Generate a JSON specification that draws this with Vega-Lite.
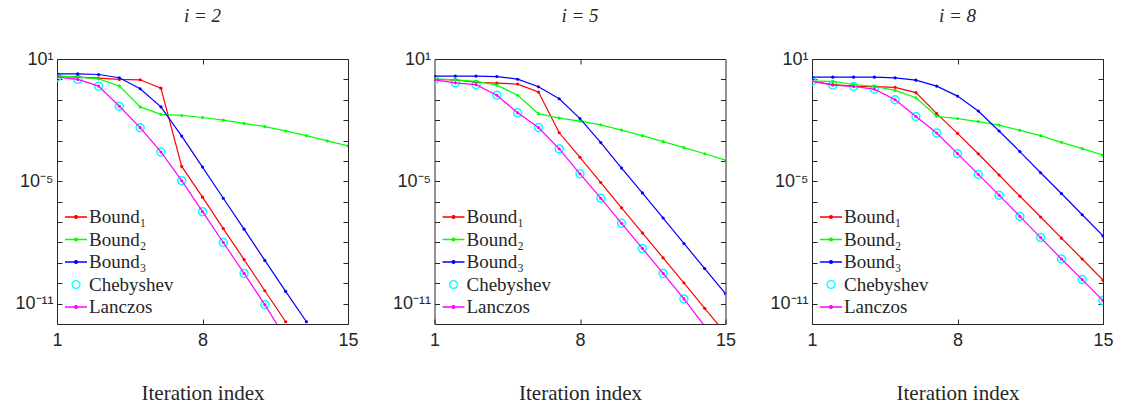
{
"$schema": "https://vega.github.io/schema/vega-lite/v6.json",
"background": "white",
"padding": {"left": 14, "top": 6, "right": 5, "bottom": 5},
"spacing": 32.5,
"datasets": {
"p2": [
{"k":1,"s":"Bound₁","v":1.45},{"k":2,"s":"Bound₁","v":1.29},{"k":3,"s":"Bound₁","v":1.15},{"k":4,"s":"Bound₁","v":1.0},{"k":5,"s":"Bound₁","v":0.955},{"k":6,"s":"Bound₁","v":0.372},{"k":7,"s":"Bound₁","v":5.37e-5},{"k":8,"s":"Bound₁","v":1.66e-6},{"k":9,"s":"Bound₁","v":4.79e-8},{"k":10,"s":"Bound₁","v":1.45e-9},{"k":11,"s":"Bound₁","v":4.27e-11},{"k":12,"s":"Bound₁","v":1.29e-12},
{"k":1,"s":"Bound₂","v":1.45},{"k":2,"s":"Bound₂","v":1.29},{"k":3,"s":"Bound₂","v":1.07},{"k":4,"s":"Bound₂","v":0.468},{"k":5,"s":"Bound₂","v":0.0447},{"k":6,"s":"Bound₂","v":0.0191},{"k":7,"s":"Bound₂","v":0.017},{"k":8,"s":"Bound₂","v":0.0135},{"k":9,"s":"Bound₂","v":0.01},{"k":10,"s":"Bound₂","v":0.00692},{"k":11,"s":"Bound₂","v":0.00479},{"k":12,"s":"Bound₂","v":0.00295},{"k":13,"s":"Bound₂","v":0.00174},{"k":14,"s":"Bound₂","v":0.000955},{"k":15,"s":"Bound₂","v":0.00055},
{"k":1,"s":"Bound₃","v":1.86},{"k":2,"s":"Bound₃","v":1.86},{"k":3,"s":"Bound₃","v":1.74},{"k":4,"s":"Bound₃","v":1.2},{"k":5,"s":"Bound₃","v":0.347},{"k":6,"s":"Bound₃","v":0.0447},{"k":7,"s":"Bound₃","v":0.00166},{"k":8,"s":"Bound₃","v":5.01e-5},{"k":9,"s":"Bound₃","v":1.48e-6},{"k":10,"s":"Bound₃","v":4.47e-8},{"k":11,"s":"Bound₃","v":1.32e-9},{"k":12,"s":"Bound₃","v":3.98e-11},{"k":13,"s":"Bound₃","v":1.29e-12},
{"k":1,"s":"Chebyshev","v":1.29},{"k":2,"s":"Chebyshev","v":1.0},{"k":3,"s":"Chebyshev","v":0.468},{"k":4,"s":"Chebyshev","v":0.0479},{"k":5,"s":"Chebyshev","v":0.00427},{"k":6,"s":"Chebyshev","v":0.000275},{"k":7,"s":"Chebyshev","v":1.07e-5},{"k":8,"s":"Chebyshev","v":3.24e-7},{"k":9,"s":"Chebyshev","v":1.0e-8},{"k":10,"s":"Chebyshev","v":3.02e-10},{"k":11,"s":"Chebyshev","v":8.91e-12},
{"k":1,"s":"Lanczos","v":1.29},{"k":2,"s":"Lanczos","v":1.0},{"k":3,"s":"Lanczos","v":0.468},{"k":4,"s":"Lanczos","v":0.0479},{"k":5,"s":"Lanczos","v":0.00427},{"k":6,"s":"Lanczos","v":0.000275},{"k":7,"s":"Lanczos","v":1.07e-5},{"k":8,"s":"Lanczos","v":3.24e-7},{"k":9,"s":"Lanczos","v":1.0e-8},{"k":10,"s":"Lanczos","v":3.02e-10},{"k":11,"s":"Lanczos","v":8.91e-12},{"k":12,"s":"Lanczos","v":1.95e-13}
],
"p5": [
{"k":1,"s":"Bound₁","v":1.0},{"k":2,"s":"Bound₁","v":0.955},{"k":3,"s":"Bound₁","v":0.724},{"k":4,"s":"Bound₁","v":0.661},{"k":5,"s":"Bound₁","v":0.589},{"k":6,"s":"Bound₁","v":0.24},{"k":7,"s":"Bound₁","v":0.0024},{"k":8,"s":"Bound₁","v":0.000151},{"k":9,"s":"Bound₁","v":8.71e-6},{"k":10,"s":"Bound₁","v":5.01e-7},{"k":11,"s":"Bound₁","v":2.95e-8},{"k":12,"s":"Bound₁","v":1.74e-9},{"k":13,"s":"Bound₁","v":1.05e-10},{"k":14,"s":"Bound₁","v":5.89e-12},{"k":15,"s":"Bound₁","v":3.47e-13},
{"k":1,"s":"Bound₂","v":1.07},{"k":2,"s":"Bound₂","v":0.955},{"k":3,"s":"Bound₂","v":0.794},{"k":4,"s":"Bound₂","v":0.525},{"k":5,"s":"Bound₂","v":0.166},{"k":6,"s":"Bound₂","v":0.0209},{"k":7,"s":"Bound₂","v":0.0126},{"k":8,"s":"Bound₂","v":0.00891},{"k":9,"s":"Bound₂","v":0.00589},{"k":10,"s":"Bound₂","v":0.00324},{"k":11,"s":"Bound₂","v":0.00174},{"k":12,"s":"Bound₂","v":0.000891},{"k":13,"s":"Bound₂","v":0.000447},{"k":14,"s":"Bound₂","v":0.000224},{"k":15,"s":"Bound₂","v":0.00011},
{"k":1,"s":"Bound₃","v":1.45},{"k":2,"s":"Bound₃","v":1.45},{"k":3,"s":"Bound₃","v":1.45},{"k":4,"s":"Bound₃","v":1.38},{"k":5,"s":"Bound₃","v":1.02},{"k":6,"s":"Bound₃","v":0.437},{"k":7,"s":"Bound₃","v":0.112},{"k":8,"s":"Bound₃","v":0.012},{"k":9,"s":"Bound₃","v":0.000794},{"k":10,"s":"Bound₃","v":4.47e-5},{"k":11,"s":"Bound₃","v":2.69e-6},{"k":12,"s":"Bound₃","v":1.58e-7},{"k":13,"s":"Bound₃","v":8.91e-9},{"k":14,"s":"Bound₃","v":5.25e-10},{"k":15,"s":"Bound₃","v":3.09e-11},
{"k":1,"s":"Chebyshev","v":0.955},{"k":2,"s":"Chebyshev","v":0.676},{"k":3,"s":"Chebyshev","v":0.55},{"k":4,"s":"Chebyshev","v":0.166},{"k":5,"s":"Chebyshev","v":0.0229},{"k":6,"s":"Chebyshev","v":0.00437},{"k":7,"s":"Chebyshev","v":0.000389},{"k":8,"s":"Chebyshev","v":2.34e-5},{"k":9,"s":"Chebyshev","v":1.48e-6},{"k":10,"s":"Chebyshev","v":8.71e-8},{"k":11,"s":"Chebyshev","v":5.13e-9},{"k":12,"s":"Chebyshev","v":3.02e-10},{"k":13,"s":"Chebyshev","v":1.7e-11},
{"k":1,"s":"Lanczos","v":0.955},{"k":2,"s":"Lanczos","v":0.676},{"k":3,"s":"Lanczos","v":0.55},{"k":4,"s":"Lanczos","v":0.166},{"k":5,"s":"Lanczos","v":0.0229},{"k":6,"s":"Lanczos","v":0.00437},{"k":7,"s":"Lanczos","v":0.000389},{"k":8,"s":"Lanczos","v":2.34e-5},{"k":9,"s":"Lanczos","v":1.48e-6},{"k":10,"s":"Lanczos","v":8.71e-8},{"k":11,"s":"Lanczos","v":5.13e-9},{"k":12,"s":"Lanczos","v":3.02e-10},{"k":13,"s":"Lanczos","v":1.7e-11},{"k":14,"s":"Lanczos","v":7.8e-13}
],
"p8": [
{"k":1,"s":"Bound₁","v":0.813},{"k":2,"s":"Bound₁","v":0.55},{"k":3,"s":"Bound₁","v":0.468},{"k":4,"s":"Bound₁","v":0.437},{"k":5,"s":"Bound₁","v":0.407},{"k":6,"s":"Bound₁","v":0.224},{"k":7,"s":"Bound₁","v":0.0209},{"k":8,"s":"Bound₁","v":0.00224},{"k":9,"s":"Bound₁","v":0.000224},{"k":10,"s":"Bound₁","v":2.04e-5},{"k":11,"s":"Bound₁","v":1.86e-6},{"k":12,"s":"Bound₁","v":1.78e-7},{"k":13,"s":"Bound₁","v":1.62e-8},{"k":14,"s":"Bound₁","v":1.55e-9},{"k":15,"s":"Bound₁","v":1.41e-10},
{"k":1,"s":"Bound₂","v":0.813},{"k":2,"s":"Bound₂","v":0.794},{"k":3,"s":"Bound₂","v":0.562},{"k":4,"s":"Bound₂","v":0.447},{"k":5,"s":"Bound₂","v":0.288},{"k":6,"s":"Bound₂","v":0.126},{"k":7,"s":"Bound₂","v":0.0155},{"k":8,"s":"Bound₂","v":0.012},{"k":9,"s":"Bound₂","v":0.00851},{"k":10,"s":"Bound₂","v":0.00575},{"k":11,"s":"Bound₂","v":0.00316},{"k":12,"s":"Bound₂","v":0.00174},{"k":13,"s":"Bound₂","v":0.000813},{"k":14,"s":"Bound₂","v":0.000398},{"k":15,"s":"Bound₂","v":0.000191},
{"k":1,"s":"Bound₃","v":1.29},{"k":2,"s":"Bound₃","v":1.29},{"k":3,"s":"Bound₃","v":1.29},{"k":4,"s":"Bound₃","v":1.29},{"k":5,"s":"Bound₃","v":1.19},{"k":6,"s":"Bound₃","v":0.912},{"k":7,"s":"Bound₃","v":0.468},{"k":8,"s":"Bound₃","v":0.151},{"k":9,"s":"Bound₃","v":0.0282},{"k":10,"s":"Bound₃","v":0.00295},{"k":11,"s":"Bound₃","v":0.000288},{"k":12,"s":"Bound₃","v":2.63e-5},{"k":13,"s":"Bound₃","v":2.51e-6},{"k":14,"s":"Bound₃","v":2.29e-7},{"k":15,"s":"Bound₃","v":2.09e-8},
{"k":1,"s":"Chebyshev","v":0.813},{"k":2,"s":"Chebyshev","v":0.525},{"k":3,"s":"Chebyshev","v":0.447},{"k":4,"s":"Chebyshev","v":0.331},{"k":5,"s":"Chebyshev","v":0.1},{"k":6,"s":"Chebyshev","v":0.0151},{"k":7,"s":"Chebyshev","v":0.00234},{"k":8,"s":"Chebyshev","v":0.000229},{"k":9,"s":"Chebyshev","v":2.19e-5},{"k":10,"s":"Chebyshev","v":2.09e-6},{"k":11,"s":"Chebyshev","v":1.91e-7},{"k":12,"s":"Chebyshev","v":1.74e-8},{"k":13,"s":"Chebyshev","v":1.55e-9},{"k":14,"s":"Chebyshev","v":1.51e-10},{"k":15,"s":"Chebyshev","v":1.41e-11},
{"k":1,"s":"Lanczos","v":0.813},{"k":2,"s":"Lanczos","v":0.525},{"k":3,"s":"Lanczos","v":0.447},{"k":4,"s":"Lanczos","v":0.331},{"k":5,"s":"Lanczos","v":0.1},{"k":6,"s":"Lanczos","v":0.0151},{"k":7,"s":"Lanczos","v":0.00234},{"k":8,"s":"Lanczos","v":0.000229},{"k":9,"s":"Lanczos","v":2.19e-5},{"k":10,"s":"Lanczos","v":2.09e-6},{"k":11,"s":"Lanczos","v":1.91e-7},{"k":12,"s":"Lanczos","v":1.74e-8},{"k":13,"s":"Lanczos","v":1.55e-9},{"k":14,"s":"Lanczos","v":1.51e-10},{"k":15,"s":"Lanczos","v":1.41e-11}
]
},
"hconcat": [
{"width": 291, "height": 265, "title": {"text": "i = 2"}, "data": {"name": "p2"},
 "layer": [
  {"transform": [{"filter": "datum.s === 'Chebyshev'"}],
   "mark": {"type": "point", "filled": false, "size": 484, "strokeWidth": 1.5, "opacity": 1, "clip": true},
   "encoding": {
    "x": {"field": "k", "type": "quantitative", "scale": {"domain": [1, 15], "nice": false, "zero": false}, "axis": {"orient": "top", "values": [8], "labels": false, "tickSize": -5, "title": null}},
    "y": {"field": "v", "type": "quantitative", "scale": {"type": "log", "domain": [1e-12, 10], "nice": false}, "axis": {"orient": "right", "values": [10,1,0.1,0.01,0.001,0.0001,1e-5,1e-6,1e-7,1e-8,1e-9,1e-10,1e-11,1e-12], "labels": false, "tickSize": -5, "title": null}},
    "stroke": {"field": "s", "type": "nominal", "scale": {"domain": ["Bound₁","Bound₂","Bound₃","Chebyshev","Lanczos"], "range": ["#ff0000","#00ff00","#0000ff","#00ffff","#ff00ff"]},
      "legend": {"orient": "none", "legendX": 7, "legendY": 146, "title": null}},
    "fill": {"field": "s", "type": "nominal", "scale": {"domain": ["Bound₁","Bound₂","Bound₃","Chebyshev","Lanczos"], "range": ["#ff0000","#00ff00","#0000ff","transparent","#ff00ff"]},
      "legend": {"orient": "none", "legendX": 7, "legendY": 146, "title": null}},
    "shape": {"field": "s", "type": "nominal", "scale": {"domain": ["Bound₁","Bound₂","Bound₃","Chebyshev","Lanczos"], "range": ["M-1,0L1,0M-0.13,0A0.13,0.13,0,1,0,0.13,0A0.13,0.13,0,1,0,-0.13,0Z","M-1,0L1,0M-0.13,0A0.13,0.13,0,1,0,0.13,0A0.13,0.13,0,1,0,-0.13,0Z","M-1,0L1,0M-0.13,0A0.13,0.13,0,1,0,0.13,0A0.13,0.13,0,1,0,-0.13,0Z","M-0.36,0A0.36,0.36,0,1,0,0.36,0A0.36,0.36,0,1,0,-0.36,0Z","M-1,0L1,0M-0.13,0A0.13,0.13,0,1,0,0.13,0A0.13,0.13,0,1,0,-0.13,0Z"]},
      "legend": {"orient": "none", "legendX": 7, "legendY": 146, "title": null}}
   }},
  {"transform": [{"filter": "datum.s !== 'Chebyshev'"}],
   "mark": {"type": "line", "strokeWidth": 1.2, "clip": true},
   "encoding": {
    "x": {"field": "k", "type": "quantitative", "scale": {"domain": [1, 15], "nice": false, "zero": false}, "axis": {"orient": "bottom", "values": [1, 8, 15], "tickSize": -5, "labelPadding": 12, "title": "Iteration index", "titlePadding": 33}},
    "y": {"field": "v", "type": "quantitative", "scale": {"type": "log", "domain": [1e-12, 10], "nice": false}, "axis": {"orient": "left", "values": [10,1,0.1,0.01,0.001,0.0001,1e-5,1e-6,1e-7,1e-8,1e-9,1e-10,1e-11,1e-12], "tickSize": -5, "labelPadding": 9, "title": null, "labelBaseline": "middle",
      "labelExpr": "round(log(datum.value)/LN10) == 1 ? '10¹' : round(log(datum.value)/LN10) == -5 ? '10⁻⁵' : round(log(datum.value)/LN10) == -11 ? '10⁻¹¹' : ''"}},
    "color": {"field": "s", "type": "nominal", "scale": {"domain": ["Bound₁","Bound₂","Bound₃","Chebyshev","Lanczos"], "range": ["#ff0000","#00ff00","#0000ff","#00ffff","#ff00ff"]}, "legend": null}
   }},
  {"transform": [{"filter": "datum.s !== 'Chebyshev'"}],
   "mark": {"type": "point", "filled": true, "size": 10, "opacity": 1, "clip": true},
   "encoding": {
    "x": {"field": "k", "type": "quantitative", "scale": {"domain": [1, 15], "nice": false, "zero": false}, "axis": null},
    "y": {"field": "v", "type": "quantitative", "scale": {"type": "log", "domain": [1e-12, 10], "nice": false}, "axis": null},
    "color": {"field": "s", "type": "nominal", "scale": {"domain": ["Bound₁","Bound₂","Bound₃","Chebyshev","Lanczos"], "range": ["#ff0000","#00ff00","#0000ff","#00ffff","#ff00ff"]}, "legend": null}
   }}
 ],
 "resolve": {"axis": {"x": "independent", "y": "independent"}}
},
{"width": 291, "height": 265, "title": {"text": "i = 5"}, "data": {"name": "p5"},
 "layer": [
  {"transform": [{"filter": "datum.s === 'Chebyshev'"}],
   "mark": {"type": "point", "filled": false, "size": 484, "strokeWidth": 1.5, "opacity": 1, "clip": true},
   "encoding": {
    "x": {"field": "k", "type": "quantitative", "scale": {"domain": [1, 15], "nice": false, "zero": false}, "axis": {"orient": "top", "values": [8], "labels": false, "tickSize": -5, "title": null}},
    "y": {"field": "v", "type": "quantitative", "scale": {"type": "log", "domain": [1e-12, 10], "nice": false}, "axis": {"orient": "right", "values": [10,1,0.1,0.01,0.001,0.0001,1e-5,1e-6,1e-7,1e-8,1e-9,1e-10,1e-11,1e-12], "labels": false, "tickSize": -5, "title": null}},
    "stroke": {"field": "s", "type": "nominal", "scale": {"domain": ["Bound₁","Bound₂","Bound₃","Chebyshev","Lanczos"], "range": ["#ff0000","#00ff00","#0000ff","#00ffff","#ff00ff"]},
      "legend": {"orient": "none", "legendX": 7, "legendY": 146, "title": null}},
    "fill": {"field": "s", "type": "nominal", "scale": {"domain": ["Bound₁","Bound₂","Bound₃","Chebyshev","Lanczos"], "range": ["#ff0000","#00ff00","#0000ff","transparent","#ff00ff"]},
      "legend": {"orient": "none", "legendX": 7, "legendY": 146, "title": null}},
    "shape": {"field": "s", "type": "nominal", "scale": {"domain": ["Bound₁","Bound₂","Bound₃","Chebyshev","Lanczos"], "range": ["M-1,0L1,0M-0.13,0A0.13,0.13,0,1,0,0.13,0A0.13,0.13,0,1,0,-0.13,0Z","M-1,0L1,0M-0.13,0A0.13,0.13,0,1,0,0.13,0A0.13,0.13,0,1,0,-0.13,0Z","M-1,0L1,0M-0.13,0A0.13,0.13,0,1,0,0.13,0A0.13,0.13,0,1,0,-0.13,0Z","M-0.36,0A0.36,0.36,0,1,0,0.36,0A0.36,0.36,0,1,0,-0.36,0Z","M-1,0L1,0M-0.13,0A0.13,0.13,0,1,0,0.13,0A0.13,0.13,0,1,0,-0.13,0Z"]},
      "legend": {"orient": "none", "legendX": 7, "legendY": 146, "title": null}}
   }},
  {"transform": [{"filter": "datum.s !== 'Chebyshev'"}],
   "mark": {"type": "line", "strokeWidth": 1.2, "clip": true},
   "encoding": {
    "x": {"field": "k", "type": "quantitative", "scale": {"domain": [1, 15], "nice": false, "zero": false}, "axis": {"orient": "bottom", "values": [1, 8, 15], "tickSize": -5, "labelPadding": 12, "title": "Iteration index", "titlePadding": 33}},
    "y": {"field": "v", "type": "quantitative", "scale": {"type": "log", "domain": [1e-12, 10], "nice": false}, "axis": {"orient": "left", "values": [10,1,0.1,0.01,0.001,0.0001,1e-5,1e-6,1e-7,1e-8,1e-9,1e-10,1e-11,1e-12], "tickSize": -5, "labelPadding": 9, "title": null, "labelBaseline": "middle",
      "labelExpr": "round(log(datum.value)/LN10) == 1 ? '10¹' : round(log(datum.value)/LN10) == -5 ? '10⁻⁵' : round(log(datum.value)/LN10) == -11 ? '10⁻¹¹' : ''"}},
    "color": {"field": "s", "type": "nominal", "scale": {"domain": ["Bound₁","Bound₂","Bound₃","Chebyshev","Lanczos"], "range": ["#ff0000","#00ff00","#0000ff","#00ffff","#ff00ff"]}, "legend": null}
   }},
  {"transform": [{"filter": "datum.s !== 'Chebyshev'"}],
   "mark": {"type": "point", "filled": true, "size": 10, "opacity": 1, "clip": true},
   "encoding": {
    "x": {"field": "k", "type": "quantitative", "scale": {"domain": [1, 15], "nice": false, "zero": false}, "axis": null},
    "y": {"field": "v", "type": "quantitative", "scale": {"type": "log", "domain": [1e-12, 10], "nice": false}, "axis": null},
    "color": {"field": "s", "type": "nominal", "scale": {"domain": ["Bound₁","Bound₂","Bound₃","Chebyshev","Lanczos"], "range": ["#ff0000","#00ff00","#0000ff","#00ffff","#ff00ff"]}, "legend": null}
   }}
 ],
 "resolve": {"axis": {"x": "independent", "y": "independent"}}
},
{"width": 291, "height": 265, "title": {"text": "i = 8"}, "data": {"name": "p8"},
 "layer": [
  {"transform": [{"filter": "datum.s === 'Chebyshev'"}],
   "mark": {"type": "point", "filled": false, "size": 484, "strokeWidth": 1.5, "opacity": 1, "clip": true},
   "encoding": {
    "x": {"field": "k", "type": "quantitative", "scale": {"domain": [1, 15], "nice": false, "zero": false}, "axis": {"orient": "top", "values": [8], "labels": false, "tickSize": -5, "title": null}},
    "y": {"field": "v", "type": "quantitative", "scale": {"type": "log", "domain": [1e-12, 10], "nice": false}, "axis": {"orient": "right", "values": [10,1,0.1,0.01,0.001,0.0001,1e-5,1e-6,1e-7,1e-8,1e-9,1e-10,1e-11,1e-12], "labels": false, "tickSize": -5, "title": null}},
    "stroke": {"field": "s", "type": "nominal", "scale": {"domain": ["Bound₁","Bound₂","Bound₃","Chebyshev","Lanczos"], "range": ["#ff0000","#00ff00","#0000ff","#00ffff","#ff00ff"]},
      "legend": {"orient": "none", "legendX": 7, "legendY": 146, "title": null}},
    "fill": {"field": "s", "type": "nominal", "scale": {"domain": ["Bound₁","Bound₂","Bound₃","Chebyshev","Lanczos"], "range": ["#ff0000","#00ff00","#0000ff","transparent","#ff00ff"]},
      "legend": {"orient": "none", "legendX": 7, "legendY": 146, "title": null}},
    "shape": {"field": "s", "type": "nominal", "scale": {"domain": ["Bound₁","Bound₂","Bound₃","Chebyshev","Lanczos"], "range": ["M-1,0L1,0M-0.13,0A0.13,0.13,0,1,0,0.13,0A0.13,0.13,0,1,0,-0.13,0Z","M-1,0L1,0M-0.13,0A0.13,0.13,0,1,0,0.13,0A0.13,0.13,0,1,0,-0.13,0Z","M-1,0L1,0M-0.13,0A0.13,0.13,0,1,0,0.13,0A0.13,0.13,0,1,0,-0.13,0Z","M-0.36,0A0.36,0.36,0,1,0,0.36,0A0.36,0.36,0,1,0,-0.36,0Z","M-1,0L1,0M-0.13,0A0.13,0.13,0,1,0,0.13,0A0.13,0.13,0,1,0,-0.13,0Z"]},
      "legend": {"orient": "none", "legendX": 7, "legendY": 146, "title": null}}
   }},
  {"transform": [{"filter": "datum.s !== 'Chebyshev'"}],
   "mark": {"type": "line", "strokeWidth": 1.2, "clip": true},
   "encoding": {
    "x": {"field": "k", "type": "quantitative", "scale": {"domain": [1, 15], "nice": false, "zero": false}, "axis": {"orient": "bottom", "values": [1, 8, 15], "tickSize": -5, "labelPadding": 12, "title": "Iteration index", "titlePadding": 33}},
    "y": {"field": "v", "type": "quantitative", "scale": {"type": "log", "domain": [1e-12, 10], "nice": false}, "axis": {"orient": "left", "values": [10,1,0.1,0.01,0.001,0.0001,1e-5,1e-6,1e-7,1e-8,1e-9,1e-10,1e-11,1e-12], "tickSize": -5, "labelPadding": 9, "title": null, "labelBaseline": "middle",
      "labelExpr": "round(log(datum.value)/LN10) == 1 ? '10¹' : round(log(datum.value)/LN10) == -5 ? '10⁻⁵' : round(log(datum.value)/LN10) == -11 ? '10⁻¹¹' : ''"}},
    "color": {"field": "s", "type": "nominal", "scale": {"domain": ["Bound₁","Bound₂","Bound₃","Chebyshev","Lanczos"], "range": ["#ff0000","#00ff00","#0000ff","#00ffff","#ff00ff"]}, "legend": null}
   }},
  {"transform": [{"filter": "datum.s !== 'Chebyshev'"}],
   "mark": {"type": "point", "filled": true, "size": 10, "opacity": 1, "clip": true},
   "encoding": {
    "x": {"field": "k", "type": "quantitative", "scale": {"domain": [1, 15], "nice": false, "zero": false}, "axis": null},
    "y": {"field": "v", "type": "quantitative", "scale": {"type": "log", "domain": [1e-12, 10], "nice": false}, "axis": null},
    "color": {"field": "s", "type": "nominal", "scale": {"domain": ["Bound₁","Bound₂","Bound₃","Chebyshev","Lanczos"], "range": ["#ff0000","#00ff00","#0000ff","#00ffff","#ff00ff"]}, "legend": null}
   }}
 ],
 "resolve": {"axis": {"x": "independent", "y": "independent"}}
}
],
"resolve": {"scale": {"color": "independent", "shape": "independent", "stroke": "independent", "fill": "independent"}, "legend": {"color": "independent", "shape": "independent", "stroke": "independent", "fill": "independent"}},
"config": {
 "view": {"stroke": "#262626", "strokeWidth": 1},
 "axis": {"domain": false, "grid": false, "labelFont": "Liberation Sans", "labelFontSize": 18, "labelColor": "#262626", "tickColor": "#262626", "tickWidth": 1, "titleFont": "Liberation Serif", "titleFontSize": 21, "titleFontWeight": "normal", "titleColor": "#262626", "labelFlush": false, "labelOverlap": false},
 "title": {"font": "Liberation Serif", "fontSize": 19, "fontStyle": "italic", "fontWeight": "normal", "color": "#262626", "offset": 24},
 "legend": {"symbolSize": 484, "labelFont": "Liberation Serif", "labelFontSize": 19, "labelColor": "#262626", "rowPadding": 0.5, "labelOffset": 1, "padding": 0, "labelBaseline": "middle", "symbolStrokeWidth": 1.3}
}
}
